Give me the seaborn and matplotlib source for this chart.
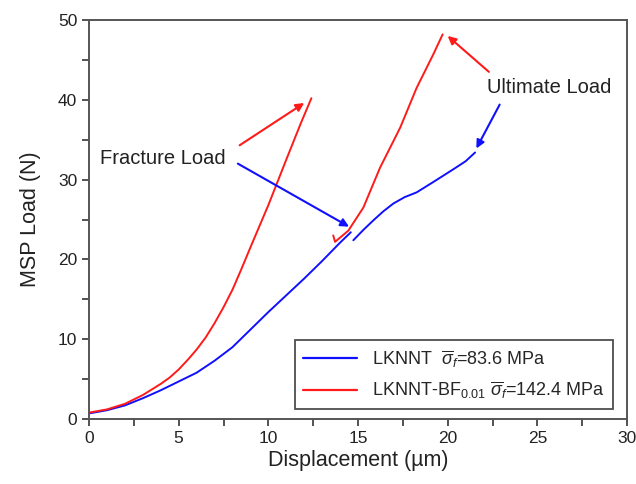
import matplotlib
matplotlib.use("Agg")
import matplotlib.pyplot as plt
import seaborn as sns
import pandas as pd
from matplotlib.lines import Line2D

# ---- data ----
blue1_x = [0, 1, 2, 3, 4, 5, 6, 7, 8, 9, 10, 11, 12, 13, 14, 14.6]
blue1_y = [0.7, 1.1, 1.7, 2.6, 3.6, 4.7, 5.8, 7.3, 9.0, 11.2, 13.4, 15.5, 17.6, 19.8, 22.1, 23.4]
blue2_x = [14.74, 15.3, 15.86, 16.4, 16.97, 17.6, 18.27, 19.2, 20.32, 21.0, 21.53]
blue2_y = [22.4, 23.7, 24.9, 26.0, 27.0, 27.8, 28.4, 29.7, 31.3, 32.3, 33.4]
red1_x = [0, 1, 2, 3, 4, 4.5, 5, 5.5, 6, 6.5, 7, 7.5, 8, 8.5, 9, 10, 11, 11.8, 12.4]
red1_y = [0.8, 1.2, 1.9, 3.0, 4.4, 5.2, 6.2, 7.4, 8.7, 10.2, 12.0, 14.0, 16.2, 18.8, 21.5,
          26.8, 32.5, 37.0, 40.2]
red2_x = [13.62, 13.72, 14.46, 15.3, 16.23, 17.35, 18.27, 19.2, 19.72]
red2_y = [23.0, 22.2, 23.6, 26.5, 31.5, 36.5, 41.5, 45.7, 48.2]

series_names = ["LKNNT", "LKNNT-BF"]
legend_labels = [r"LKNNT  $\overline{\sigma}_f$=83.6 MPa",
                 r"LKNNT-BF$_{0.01}$ $\overline{\sigma}_f$=142.4 MPa"]
colors = ["#1010ff", "#ff1a1a"]

frames = []
for name, seg, xs, ys in [("LKNNT", 1, blue1_x, blue1_y), ("LKNNT", 2, blue2_x, blue2_y),
                          ("LKNNT-BF", 3, red1_x, red1_y), ("LKNNT-BF", 4, red2_x, red2_y)]:
    frames.append(pd.DataFrame({"x": xs, "y": ys, "series": name, "seg": seg}))
df = pd.concat(frames, ignore_index=True)

sns.set_theme(style="ticks")
plt.rcParams["font.family"] = ["Liberation Sans", "DejaVu Sans"]
plt.rcParams["mathtext.fontset"] = "custom"
plt.rcParams["mathtext.rm"] = "Liberation Sans"
plt.rcParams["mathtext.it"] = "Liberation Sans:italic"
plt.rcParams["mathtext.bf"] = "Liberation Sans:bold"

fig = plt.figure(figsize=(6.36, 4.84), dpi=100)
ax = fig.add_axes([89/636, 1-419/484, (627-89)/636, (419-20)/484])

sns.lineplot(data=df, x="x", y="y", hue="series", units="seg", estimator=None,
             sort=False, palette=dict(zip(series_names, colors)), linewidth=1.4,
             legend=False, ax=ax)

ax.set_xlim(0, 30)
ax.set_ylim(0, 50)
ax.set_xticks(range(0, 31, 5))
ax.set_yticks(range(0, 51, 10))
ax.set_xticks([2.5 + 5*i for i in range(6)], minor=True)
ax.set_yticks([5 + 10*i for i in range(5)], minor=True)
ax.tick_params(which="both", direction="out", length=5, width=1.3, color="#444444",
               labelsize=12.5, labelcolor="#222222")
for s in ax.spines.values():
    s.set_visible(True)
    s.set_color("#555555")
    s.set_linewidth(1.4)
ax.set_xlabel("Displacement (µm)", fontsize=15.5, color="#222222", labelpad=3)
ax.set_ylabel("MSP Load (N)", fontsize=15.5, color="#222222", labelpad=12)

# annotations
tk = dict(fontsize=14.5, color="#222222")
ax.text(0.6, 32.6, "Fracture Load", va="center", ha="left", **tk)
ax.text(22.2, 41.5, "Ultimate Load", va="center", ha="left", **tk)
arr = lambda c: dict(arrowstyle="-|>", color=c, lw=1.5, mutation_scale=12,
                     shrinkA=0, shrinkB=0)
ax.annotate("", xy=(12.0, 39.6), xytext=(8.4, 34.3), arrowprops=arr(colors[1]))
ax.annotate("", xy=(14.5, 24.1), xytext=(8.3, 32.0), arrowprops=arr(colors[0]))
ax.annotate("", xy=(20.0, 48.0), xytext=(22.3, 43.5), arrowprops=arr(colors[1]))
ax.annotate("", xy=(21.6, 33.9), xytext=(22.9, 39.4), arrowprops=arr(colors[0]))

handles = [Line2D([], [], color=c, lw=1.6) for c in colors]
leg = ax.legend(handles, legend_labels, loc="lower right",
                bbox_to_anchor=(29.2/30, 1.25/50), fontsize=13, frameon=True,
                fancybox=False, edgecolor="#222222", handlelength=3.0,
                borderaxespad=0, labelspacing=0.55, borderpad=0.45)
leg.get_frame().set_linewidth(1.3)

fig.savefig("out.png", dpi=100)
